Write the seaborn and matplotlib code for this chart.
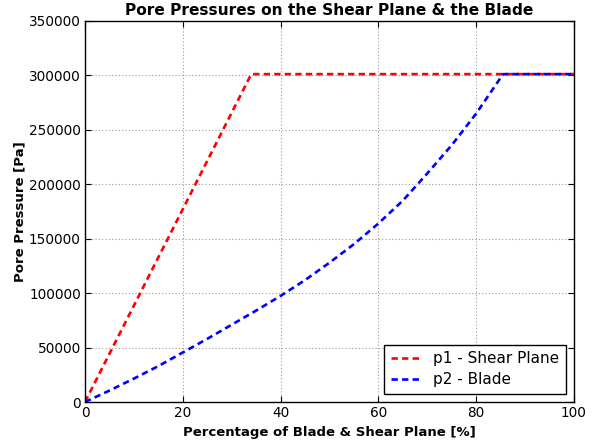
import numpy as np
import pandas as pd
import matplotlib
matplotlib.use("Agg")
import matplotlib.pyplot as plt
import seaborn as sns

# Data
p1_x = [0, 34, 100]
p1_y = [0, 301200, 301200]
p2_x = [0, 5, 10, 15, 20, 25, 30, 35, 40, 45, 50, 55, 60, 65, 70, 75, 80, 85.5, 100]
p2_y = [0, 10500, 21500, 33000, 45500, 58000, 71000, 84000, 97500, 112000, 128000,
        145000, 164000, 185000, 210000, 236000, 265000, 301200, 301200]
series_names = ["p1 - Shear Plane", "p2 - Blade"]
series_colors = ["red", "blue"]
x_ticks = [0, 20, 40, 60, 80, 100]
y_ticks = [0, 50000, 100000, 150000, 200000, 250000, 300000, 350000]

df = pd.concat([
    pd.DataFrame({"x": p1_x, "y": p1_y, "series": series_names[0]}),
    pd.DataFrame({"x": p2_x, "y": p2_y, "series": series_names[1]}),
], ignore_index=True)

sns.set_style("ticks")
plt.rcParams["font.family"] = ["DejaVu Sans"]
plt.rcParams["text.color"] = "black"
plt.rcParams["axes.labelcolor"] = "black"

fig = plt.figure(figsize=(5.99, 4.45), dpi=100)
ax = fig.add_axes([85/599, 1 - 402/445, (574-85)/599, (402-21)/445])

sns.lineplot(data=df, x="x", y="y", hue="series", palette=series_colors,
             ax=ax, sort=False, estimator=None, linewidth=1.9)
for line in ax.get_lines():
    line.set_linestyle((0, (2.4, 1.6)))

ax.set_xlim(0, 100)
ax.set_ylim(0, 350000)
ax.set_xticks(x_ticks)
ax.set_yticks(y_ticks)
ax.set_xticklabels([str(t) for t in x_ticks])
ax.set_yticklabels([str(t) for t in y_ticks])
ax.tick_params(direction="in", length=4, width=0.8, top=True, right=True,
               labelsize=9.8, colors="black", labelcolor="black", pad=3)
ax.grid(True, linestyle=(0, (1, 2)), color="#9a9a9a", linewidth=0.8)
for s in ax.spines.values():
    s.set_color("black")
    s.set_linewidth(1.0)
    s.set_visible(True)

ax.set_title("Pore Pressures on the Shear Plane & the Blade", fontsize=11.1,
             fontweight="bold", pad=4, color="black")
ax.set_xlabel("Percentage of Blade & Shear Plane [%]", fontsize=9.5, fontweight="bold")
ax.set_ylabel("Pore Pressure [Pa]", fontsize=9.5, fontweight="bold", labelpad=1.5)

handles, labels = ax.get_legend_handles_labels()
leg = ax.legend(handles, labels, loc="lower right", fontsize=11, frameon=True,
                fancybox=False, edgecolor="black", framealpha=1,
                handlelength=2.0, borderpad=0.45, labelspacing=0.4,
                borderaxespad=0.5)
leg.get_frame().set_linewidth(1.0)

fig.savefig("out.png", dpi=100)
